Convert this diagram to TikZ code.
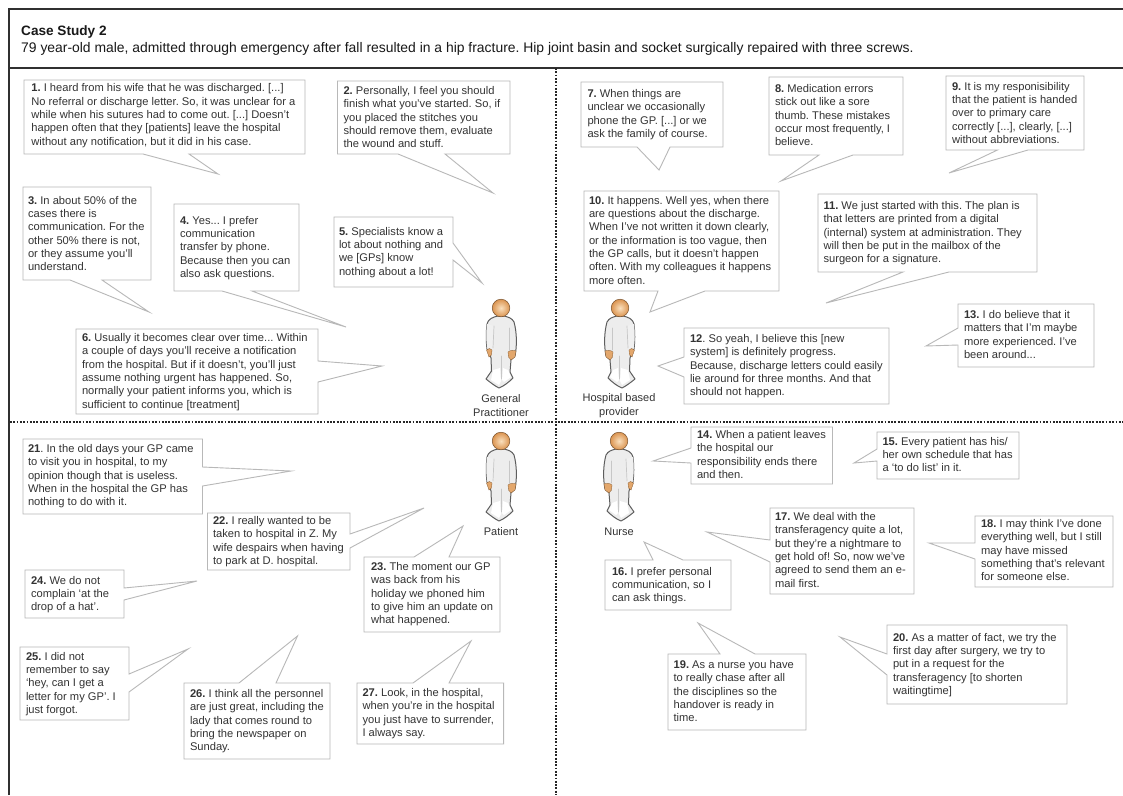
\documentclass[tikz,border=0pt]{standalone}
\usepackage{fontspec}
\setmainfont{Liberation Sans}
\definecolor{ink}{HTML}{333333}
\definecolor{rim}{HTML}{B8B8B8}
\definecolor{frame}{HTML}{303030}
\definecolor{skinA}{HTML}{FAE0BE}
\definecolor{skinB}{HTML}{DB9450}
\definecolor{suit}{HTML}{EDEDED}
\definecolor{suitEdge}{HTML}{5E5E5E}
\tikzset{
  bubble/.style={draw=rim,line width=0.9pt,fill=white,line join=miter},
  saytext/.style={anchor=north west,inner sep=0pt,outer sep=0pt,align=left,text=ink,
    font=\fontsize{11.15}{13.3}\selectfont\frenchspacing},
  rolelabel/.style={anchor=center,inner sep=0pt,align=center,text=ink,
    font=\fontsize{11}{13.3}\selectfont},
  divider/.style={dash pattern=on 1.8pt off 1.5pt,line width=1.5pt,black!85},
  framing/.style={frame,line width=1.6pt},
  suitbody/.style={draw=suitEdge,line width=1pt,fill=suit,line join=round},
  crease/.style={draw=black!22,line width=.7pt,line cap=round},
  hand/.style={fill=skinB!75!skinA,draw=skinB!60!black,line width=0.3pt},
  headball/.style={inner color=skinA,outer color=skinB,draw=skinB!55!black,line width=0.5pt},
}
\newcommand{\say}[4]{\node[saytext] (#1) at ({#2},{#3-5.8}) {\strut #4};}
% person: head centre at (#1,#2), #3 = 1 or -1 for mirroring
\newcommand{\person}[3]{%
\begin{scope}[shift={(#1,#2)},x=#3 pt,y=-1pt]
  \draw[suitbody] (-3,8) .. controls (-8,9) and (-13,11) .. (-14,16)
     .. controls (-15,25) and (-15,33) .. (-14,41)
     -- (-11,47) -- (-10,50) -- (-9.5,63) -- (-15,71) .. controls (-10,75) and (-6,78) .. (-2,80)
     .. controls (3,78) and (8,74) .. (12,70) -- (9,64)
     -- (10,52) -- (14,48) .. controls (16,38) and (16,25) .. (13,14)
     .. controls (11,10) and (7,9) .. (3,8) -- cycle;
  \fill[black!6] (-14,16) .. controls (-15,25) and (-15,33) .. (-13.5,41) -- (-8,41) -- (-7,18) -- cycle;
  \fill[white] (-10,72) -- (-2,77) -- (0,73) -- (-1,60) -- (-8,62) -- cycle;
  \fill[white] (1,72) -- (3,74) -- (10,69) -- (7,62) -- (2,60) -- cycle;
  \draw[crease] (-7,18) -- (-8,40);
  \draw[crease] (8,20) -- (8,42);
  \draw[crease] (0.5,48) -- (0.5,71);
  \draw[hand] (-14.5,42) .. controls (-13,40) and (-10,40) .. (-9,42) -- (-9.5,47) -- (-12,49) -- cycle;
  \draw[hand] (7,44) .. controls (9,42) and (13,42) .. (15,43) -- (14,49) -- (10,52) -- (7.5,49) -- cycle;
  \draw[headball] (0,0) circle (8.8);
\end{scope}}
\begin{document}
\begin{tikzpicture}[x=1pt,y=-1pt]
\useasboundingbox (0,0) rectangle (1123,795);
\fill[white] (0,0) rectangle (1123,795);
% frame
\draw[framing] (9,795) -- (9,9) -- (1123,9);
\draw[framing] (9,68) -- (1123,68);
\draw[divider] (556,68) -- (556,795);
\draw[divider] (10,422) -- (1123,422);
% heading
\node[anchor=base west,inner sep=0pt,text=black!90,font=\fontsize{13.6}{15}\selectfont\bfseries] (title) at (21,35) {Case Study 2};
\node[anchor=base west,inner sep=0pt,text=black!90,font=\fontsize{13.9}{15}\selectfont\frenchspacing] (subtitle) at (21,52) {79 year-old male, admitted through emergency after fall resulted in a hip fracture. Hip joint basin and socket surgically repaired with three screws.};
% people
\person{501}{308}{1}
\person{620}{308}{-1}
\person{501}{441}{1}
\person{619}{441}{-1}
\node[rolelabel] (gp) at (501,405.5) {General\\Practitioner};
\node[rolelabel] (hp) at (619,405.5) {Hospital based\\provider};
\node[rolelabel] (pt) at (501,532) {Patient};
\node[rolelabel] (nu) at (619,532) {Nurse};
% callout shapes
\draw[bubble] (24,80) -- (305,80) -- (305,154) -- (189,154) -- (218,174) -- (143,154) -- (24,154) -- cycle;
\draw[bubble] (337.5,81) -- (510,81) -- (510,154) -- (445,154) -- (493,193) -- (398,154) -- (337.5,154) -- cycle;
\draw[bubble] (23,187) -- (151,187) -- (151,280) -- (102,280) -- (149,312) -- (70,280) -- (23,280) -- cycle;
\draw[bubble] (174,204) -- (299,204) -- (299,291) -- (252,291) -- (346,327) -- (222,291) -- (174,291) -- cycle;
\draw[bubble] (334,217) -- (453,217) -- (453,243) -- (482,283) -- (453,260) -- (453,287) -- (334,287) -- cycle;
\draw[bubble] (76,329) -- (318,329) -- (318,361) -- (382,366) -- (318,382) -- (318,414) -- (76,414) -- cycle;
\draw[bubble] (581,82) -- (723,82) -- (723,147) -- (670,147) -- (659,170) -- (637,147) -- (581,147) -- cycle;
\draw[bubble] (769,77) -- (903,77) -- (903,155) -- (853,155) -- (781,181) -- (819,155) -- (769,155) -- cycle;
\draw[bubble] (946,76) -- (1084,76) -- (1084,150) -- (1028,150) -- (949,173) -- (997.5,150) -- (946,150) -- cycle;
\draw[bubble] (584,191) -- (779,191) -- (779,291) -- (705,291) -- (650,312) -- (658,291) -- (584,291) -- cycle;
\draw[bubble] (818,194) -- (1037,194) -- (1037,272) -- (949,272) -- (826,303) -- (903,272) -- (818,272) -- cycle;
\draw[bubble] (684,328) -- (889,328) -- (889,404) -- (684,404) -- (684,377) -- (658,366) -- (684,357) -- cycle;
\draw[bubble] (958,304) -- (1094,304) -- (1094,367) -- (958,367) -- (958,345) -- (926,346) -- (958,328) -- cycle;
\draw[bubble] (691,427) -- (832.5,427) -- (832.5,484) -- (691,484) -- (691,463) -- (653,461) -- (691,448) -- cycle;
\draw[bubble] (877,432) -- (1019,432) -- (1019,479) -- (877,479) -- (877,461) -- (854,463) -- (877,449) -- cycle;
\draw[bubble] (605,560) -- (653,560) -- (644,542) -- (683,560) -- (731,560) -- (731,610) -- (605,610) -- cycle;
\draw[bubble] (770,508) -- (914,508) -- (914,594) -- (770,594) -- (770,562) -- (707,532) -- (770,540) -- cycle;
\draw[bubble] (975,516) -- (1113,516) -- (1113,587) -- (975,587) -- (975,559) -- (929,543) -- (975,543) -- cycle;
\draw[bubble] (668,654) -- (720,654) -- (698,623) -- (755,654) -- (806,654) -- (806,730) -- (668,730) -- cycle;
\draw[bubble] (887,625) -- (1067,625) -- (1067,704) -- (887,704) -- (887,675) -- (840,637) -- (887,654) -- cycle;
\draw[bubble] (23,439) -- (202.5,439) -- (202.5,467) -- (291,471) -- (202.5,486) -- (202.5,514) -- (23,514) -- cycle;
\draw[bubble] (207.5,513) -- (350,513) -- (350,534) -- (424,508) -- (350,548) -- (350,570) -- (207.5,570) -- cycle;
\draw[bubble] (364,557) -- (414,557) -- (463,526) -- (449,557) -- (500,557) -- (500,632) -- (364,632) -- cycle;
\draw[bubble] (25,570) -- (124,570) -- (124,588) -- (197,581) -- (124,600) -- (124,618) -- (25,618) -- cycle;
\draw[bubble] (20,647) -- (129,647) -- (129,674) -- (188,649) -- (129,692) -- (129,720) -- (20,720) -- cycle;
\draw[bubble] (184,683) -- (239,683) -- (297.5,636) -- (276,683) -- (330,683) -- (330,759) -- (184,759) -- cycle;
\draw[bubble] (357,683) -- (413,683) -- (471,641) -- (449,683) -- (503.6,683) -- (503.6,744) -- (357,744) -- cycle;
% callout texts
\say{q1}{31.4}{88.3}{\textbf{1.} I heard from his wife that he was discharged. [...]\\No referral or discharge letter. So, it was unclear for a\\while when his sutures had to come out. [...] Doesn’t\\happen often that they [patients] leave the hospital\\without any notification, but it did in his case.}
\say{q2}{343.5}{91}{\textbf{2.} Personally, I feel you should\\finish what you’ve started. So, if\\you placed the stitches you\\should remove them, evaluate\\the wound and stuff.}
\say{q3}{28}{200.7}{\textbf{3.} In about 50\% of the\\cases there is\\communication. For the\\other 50\% there is not,\\or they assume you’ll\\understand.}
\say{q4}{180}{220.7}{\textbf{4.} Yes... I prefer\\communication\\transfer by phone.\\Because then you can\\also ask questions.}
\say{q5}{339}{231.7}{\textbf{5.} Specialists know a\\lot about nothing and\\we [GPs] know\\nothing about a lot!}
\say{q6}{82}{338}{\textbf{6.} Usually it becomes clear over time... Within\\a couple of days you’ll receive a notification\\from the hospital. But if it doesn’t, you’ll just\\assume nothing urgent has happened. So,\\normally your patient informs you, which is\\sufficient to continue [treatment]}
\say{q7}{587.5}{94}{\textbf{7.} When things are\\unclear we occasionally\\phone the GP. [...] or we\\ask the family of course.}
\say{q8}{775}{89}{\textbf{8.} Medication errors\\stick out like a sore\\thumb. These mistakes\\occur most frequently, I\\believe.}
\say{q9}{952}{86.7}{\textbf{9.} It is my responisibility\\that the patient is handed\\over to primary care\\correctly [...], clearly, [...]\\without abbreviations.}
\say{q10}{589}{200.7}{\textbf{10.} It happens. Well yes, when there\\are questions about the discharge.\\When I’ve not written it down clearly,\\or the information is too vague, then\\the GP calls, but it doesn’t happen\\often. With my colleagues it happens\\more often.}
\say{q11}{823.5}{206}{\textbf{11.} We just started with this. The plan is\\that letters are printed from a digital\\(internal) system at administration. They\\will then be put in the mailbox of the\\surgeon for a signature.}
\say{q12}{690}{339}{\textbf{12}. So yeah, I believe this [new\\system] is definitely progress.\\Because, discharge letters could easily\\lie around for three months. And that\\should not happen.}
\say{q13}{964}{315}{\textbf{13.} I do believe that it\\matters that I’m maybe\\more experienced. I’ve\\been around...}
\say{q14}{697}{435}{\textbf{14.} When a patient leaves\\the hospital our\\responsibility ends there\\and then.}
\say{q15}{882.5}{441.7}{\textbf{15.} Every patient has his/\\her own schedule that has\\a ‘to do list’ in it.}
\say{q16}{612}{571.7}{\textbf{16.} I prefer personal\\communication, so I\\can ask things.}
\say{q17}{775}{517}{\textbf{17.} We deal with the\\transferagency quite a lot,\\but they’re a nightmare to\\get hold of! So, now we’ve\\agreed to send them an e-\\mail first.}
\say{q18}{981}{524}{\textbf{18.} I may think I’ve done\\everything well, but I still\\may have missed\\something that’s relevant\\for someone else.}
\say{q19}{673.6}{665}{\textbf{19.} As a nurse you have\\to really chase after all\\the disciplines so the\\handover is ready in\\time.}
\say{q20}{893}{637.7}{\textbf{20.} As a matter of fact, we try the\\first day after surgery, we try to\\put in a request for the\\transferagency [to shorten\\waitingtime]}
\say{q21}{28}{449}{\textbf{21}. In the old days your GP came\\to visit you in hospital, to my\\opinion though that is useless.\\When in the hospital the GP has\\nothing to do with it.}
\say{q22}{213}{521}{\textbf{22.} I really wanted to be\\taken to hospital in Z. My\\wife despairs when having\\to park at D. hospital.}
\say{q23}{371}{567}{\textbf{23.} The moment our GP\\was back from his\\holiday we phoned him\\to give him an update on\\what happened.}
\say{q24}{31}{580.7}{\textbf{24.} We do not\\complain ‘at the\\drop of a hat’.}
\say{q25}{26}{656.7}{\textbf{25.} I did not\\remember to say\\‘hey, can I get a\\letter for my GP’. I\\just forgot.}
\say{q26}{190}{694}{\textbf{26.} I think all the personnel\\are just great, including the\\lady that comes round to\\bring the newspaper on\\Sunday.}
\say{q27}{362.5}{693}{\textbf{27.} Look, in the hospital,\\when you’re in the hospital\\you just have to surrender,\\I always say.}
\end{tikzpicture}
\end{document}
